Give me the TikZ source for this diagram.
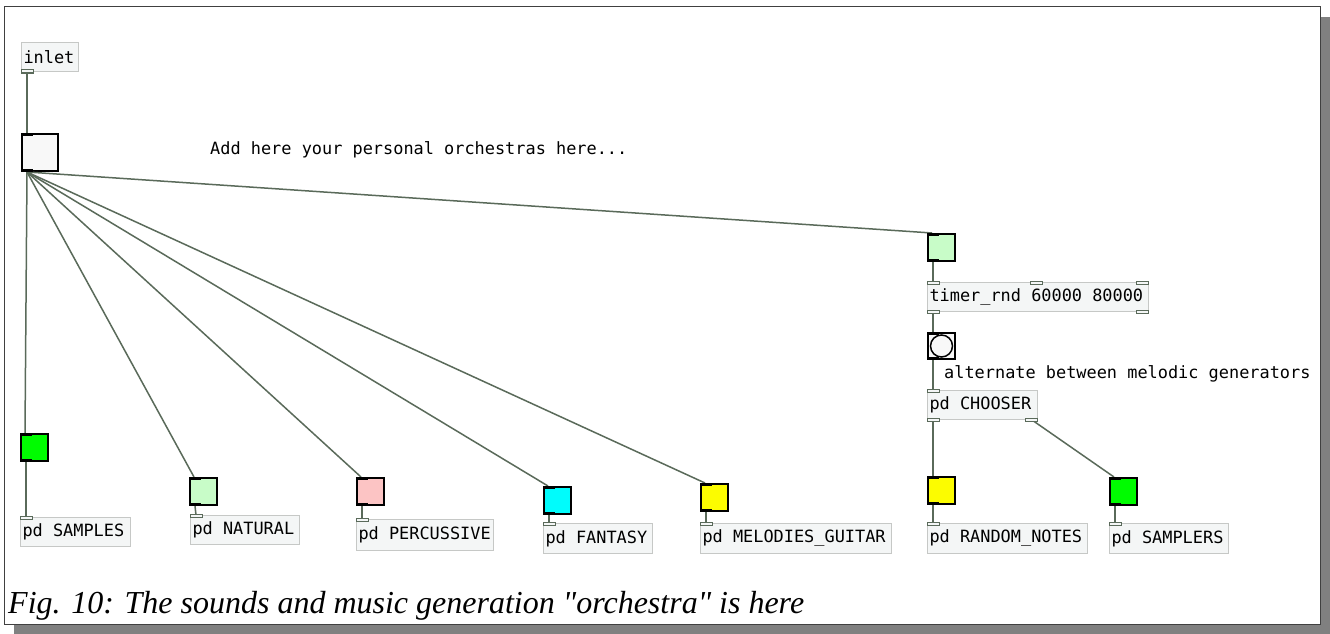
\documentclass[tikz,border=0pt]{standalone}
\usepackage{fontspec}
\newfontfamily\pdmono{DejaVu Sans Mono}
\newfontfamily\capserif{Liberation Serif}
\usetikzlibrary{calc}
\definecolor{wire}{RGB}{90,106,90}
\definecolor{boxfill}{RGB}{244,246,246}
\definecolor{boxedge}{RGB}{198,200,198}
\definecolor{shadowgray}{RGB}{128,128,128}
\definecolor{bangwhite}{RGB}{248,248,248}
\definecolor{lightgreen}{RGB}{200,252,200}
\definecolor{pdgreen}{RGB}{0,252,0}
\definecolor{pdpink}{RGB}{252,196,196}
\definecolor{pdcyan}{RGB}{0,252,252}
\definecolor{pdyellow}{RGB}{252,252,0}
\tikzset{
  pdfont/.style={font=\pdmono\fontsize{16.9}{18}\selectfont},
  pdbox/.style={draw=boxedge, fill=boxfill, line width=1pt, anchor=north west,
    inner xsep=2pt, inner ysep=0pt, minimum height=29pt, pdfont},
  bangbox/.style={draw=black, line width=2pt, anchor=north west, inner sep=0pt, minimum size=27pt},
  comment/.style={anchor=west, inner sep=0pt, pdfont},
  wireline/.style={draw=wire, line width=1.5pt},
  port/.style={draw=wire, fill=boxfill, line width=1pt},
  bport/.style={draw=black, line width=3pt}
}
% object box text, left aligned in a box of given width
\newcommand{\objtext}[2]{\makebox[#1][l]{#2}}
% port markers on object boxes: #1 node, #2 x offset
\newcommand{\pdin}[2]{\draw[port] ($(#1.north west)+(#2,-1)$) rectangle +(12,3);}
\newcommand{\pdout}[2]{\draw[port] ($(#1.south west)+(#2,1)$) rectangle +(12,-3);}
% inlet/outlet markers on bang boxes
\newcommand{\bangports}[1]{%
  \draw[bport] ($(#1.north west)+(0,1.5)$) -- +(12,0);
  \draw[bport] ($(#1.south west)+(0,-1.5)$) -- +(12,0);}
\begin{document}
\begin{tikzpicture}[x=1pt,y=-1pt]
\useasboundingbox (0,0) rectangle (1330,634);
% page frame with drop shadow
\fill[shadowgray] (14,17) rectangle (1330,634);
\filldraw[fill=white, draw=black!75, line width=1pt] (4,7) rectangle (1320,624);

% objects
\node[pdbox] (inlet) at (21,42) {\objtext{53pt}{inlet}};
\node[bangbox, fill=bangwhite, minimum width=36pt, minimum height=37pt] (main) at (21,133) {};
\node[comment] (note1) at (210,150) {Add here your personal orchestras here...};

\node[bangbox, fill=lightgreen] (tbang) at (927,233) {};
\node[pdbox] (timer) at (927,282) {\objtext{217pt}{timer\_rnd 60000 80000}};
\node[bangbox, fill=bangwhite, minimum height=26pt] (rbang) at (927,332) {};
\node[comment] (note2) at (944,374) {alternate between melodic generators};
\node[pdbox] (chooser) at (927,390) {\objtext{106pt}{pd CHOOSER}};

\node[bangbox, fill=pdgreen] (sbang) at (20,433) {};
\node[bangbox, fill=lightgreen] (nbang) at (189,477) {};
\node[bangbox, fill=pdpink] (pbang) at (356,477) {};
\node[bangbox, fill=pdcyan] (fbang) at (543,486) {};
\node[bangbox, fill=pdyellow] (mbang) at (700,483) {};
\node[bangbox, fill=pdyellow] (rnbang) at (927,476) {};
\node[bangbox, fill=pdgreen] (slbang) at (1109,477) {};

\node[pdbox] (samples) at (20,517) {\objtext{106pt}{pd SAMPLES}};
\node[pdbox] (natural) at (190,515) {\objtext{105pt}{pd NATURAL}};
\node[pdbox, minimum height=31pt] (percussive) at (356,519) {\objtext{133pt}{pd PERCUSSIVE}};
\node[pdbox, minimum height=30pt] (fantasy) at (543,523) {\objtext{105pt}{pd FANTASY}};
\node[pdbox, minimum height=30pt] (melodies) at (700,523) {\objtext{187pt}{pd MELODIES\_GUITAR}};
\node[pdbox, minimum height=30pt] (random) at (927,523) {\objtext{156pt}{pd RANDOM\_NOTES}};
\node[pdbox, minimum height=30pt] (samplers) at (1109,523) {\objtext{115pt}{pd SAMPLERS}};

% circle of the round bang
\draw[black, line width=1.5pt] (rbang.center) circle (11);

% connections
\coordinate (mainout) at ($(main.south west)+(6,0)$);
\draw[wireline] ($(inlet.south west)+(6,0)$) -- ($(main.north west)+(6,0)$);
\foreach \t in {sbang,nbang,pbang,fbang,mbang,tbang}
  \draw[wireline] (mainout) -- ($(\t.north west)+(5,0)$);
\draw[wireline] ($(tbang.south west)+(6,0)$) -- ($(timer.north west)+(6,0)$);
\draw[wireline] ($(timer.south west)+(6,0)$) -- ($(rbang.north west)+(6,0)$);
\draw[wireline] ($(rbang.south west)+(6,0)$) -- ($(chooser.north west)+(6,0)$);
\draw[wireline] ($(chooser.south west)+(6,0)$) -- ($(rnbang.north west)+(6,0)$);
\draw[wireline] ($(chooser.south east)+(-6,0)$) -- ($(slbang.north west)+(5,0)$);
\foreach \b/\p in {sbang/samples,nbang/natural,pbang/percussive,fbang/fantasy,mbang/melodies,rnbang/random,slbang/samplers}
  \draw[wireline] ($(\b.south west)+(6,0)$) -- ($(\p.north west)+(6,0)$);

% ports
\pdout{inlet}{0}
\pdin{timer}{0} \pdin{timer}{103} \pdin{timer}{209}
\pdout{timer}{0} \pdout{timer}{209}
\pdin{chooser}{0} \pdout{chooser}{0} \pdout{chooser}{98}
\foreach \p in {samples,natural,percussive,fantasy,melodies,random,samplers}
  {\pdin{\p}{0}}
\foreach \b in {main,tbang,rbang,sbang,nbang,pbang,fbang,mbang,rnbang,slbang}
  {\bangports{\b}}

% caption
\node[anchor=base west, inner sep=0pt, font=\capserif\itshape\fontsize{32}{35}\selectfont] (caption) at (8,613)
  {Fig. 10: The sounds and music generation "orchestra" is here};
\end{tikzpicture}
\end{document}
